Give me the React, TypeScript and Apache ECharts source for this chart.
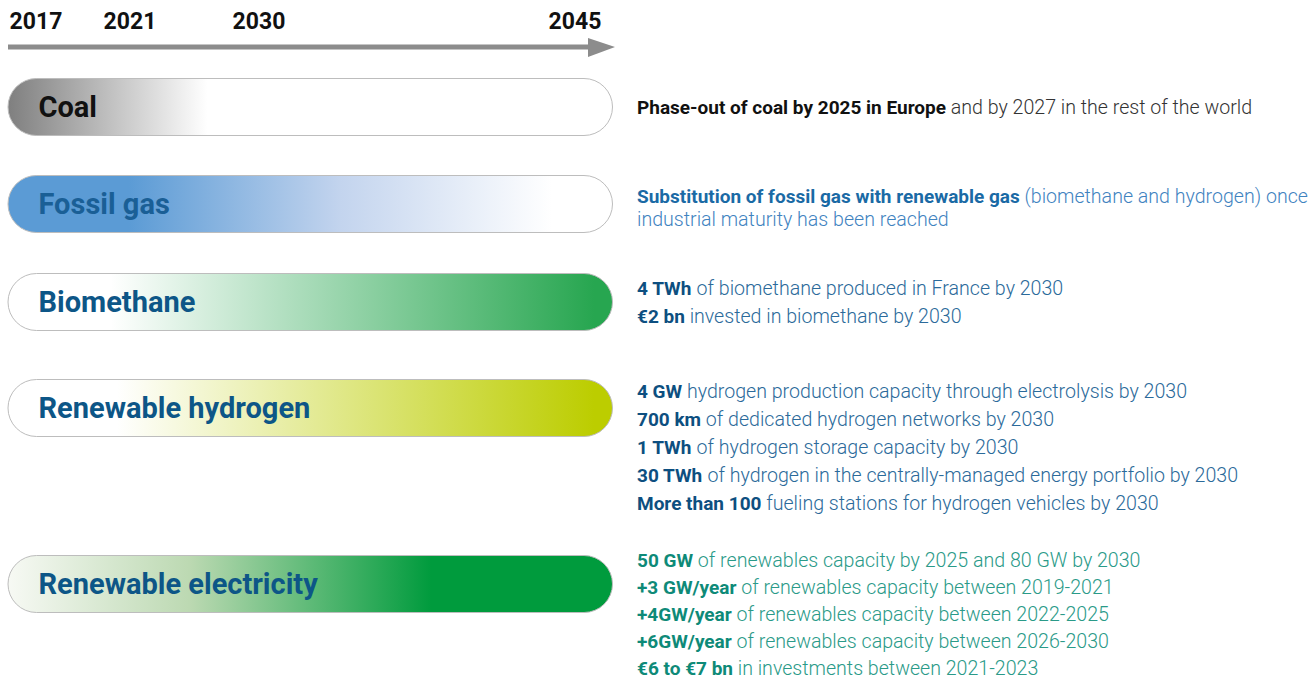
import React, { useEffect, useRef } from "react";
import * as echarts from "echarts";

const timelineYears = ["2017", "2021", "2030", "2045"];
const rangeStart = 2017;
const rangeEnd = 2045;

const energies = ["Coal", "Fossil gas", "Biomethane", "Renewable hydrogen", "Renewable electricity"];

// gradient stops per energy: [offset, color]
const gradients: [number, string][][] = [
  [[0, "#7f7f7f"], [0.33, "#ffffff"], [1, "#ffffff"]],
  [[0, "#5b9bd5"], [0.2, "#5b9bd5"], [0.55, "#c3d4ee"], [0.9, "#ffffff"], [1, "#ffffff"]],
  [[0, "#ffffff"], [0.17, "#ffffff"], [0.97, "#27a650"], [1, "#27a650"]],
  [[0, "#ffffff"], [0.18, "#ffffff"], [0.97, "#bccd00"], [1, "#bccd00"]],
  [[0, "#f7f9f4"], [0.3, "#bcd9b2"], [0.7, "#009b3d"], [1, "#009b3d"]],
];
const labelColors = ["#111111", "#1a5f96", "#0d5687", "#0d5687", "#0d5687"];

// description lines: [bold part, normal part]
const descriptions: [string, string][][] = [
  [["Phase-out of coal by 2025 in Europe", " and by 2027 in the rest of the world"]],
  [
    ["Substitution of fossil gas with renewable gas", " (biomethane and hydrogen) once"],
    ["", "industrial maturity has been reached"],
  ],
  [
    ["4 TWh", " of biomethane produced in France by 2030"],
    ["€2 bn", " invested in biomethane by 2030"],
  ],
  [
    ["4 GW", " hydrogen production capacity through electrolysis by 2030"],
    ["700 km", " of dedicated hydrogen networks by 2030"],
    ["1 TWh", " of hydrogen storage capacity by 2030"],
    ["30 TWh", " of hydrogen in the centrally-managed energy portfolio by 2030"],
    ["More than 100", " fueling stations for hydrogen vehicles by 2030"],
  ],
  [
    ["50 GW", " of renewables capacity by 2025 and 80 GW by 2030"],
    ["+3 GW/year", " of renewables capacity between 2019-2021"],
    ["+4GW/year", " of renewables capacity between 2022-2025"],
    ["+6GW/year", " of renewables capacity between 2026-2030"],
    ["€6 to €7 bn", " in investments between 2021-2023"],
  ],
];
const descBoldColors = ["#111111", "#1a6aa5", "#0d4f80", "#0d4f80", "#0e8a78"];
const descNormalColors = ["#333333", "#3f83bf", "#2b6a9a", "#2b6a9a", "#2a9a88"];

export default function App() {
  const ref = useRef<HTMLDivElement>(null);
  useEffect(() => {
    if (!ref.current) return;
    const chart = echarts.init(ref.current, null, { renderer: "svg" });

    const pillTops = [78, 175, 273, 379, 555];
    const pillH = 58;
    const pillLeft = 8;
    const pillWidth = 605;
    const descFirstY = [107, 196, 288, 391, 560];
    const descLineH = [28, 23, 28, 28, 27];
    const yearX = [36, 130, 259, 575];
    const font = "Roboto, 'Noto Sans', sans-serif";

    const grids: any[] = [];
    const xAxes: any[] = [];
    const yAxes: any[] = [];
    const series: any[] = [];
    energies.forEach((name, i) => {
      grids.push({ left: pillLeft, width: pillWidth, top: pillTops[i], height: pillH, containLabel: false });
      xAxes.push({ type: "value", gridIndex: i, min: rangeStart, max: rangeEnd, show: false });
      yAxes.push({ type: "category", gridIndex: i, data: [name], show: false });
      series.push({
        type: "bar",
        xAxisIndex: i,
        yAxisIndex: i,
        barWidth: pillH,
        data: [rangeEnd],
        silent: true,
        itemStyle: {
          borderRadius: pillH / 2,
          borderColor: "#bdbdbd",
          borderWidth: 1,
          color: new echarts.graphic.LinearGradient(
            0, 0, 1, 0,
            gradients[i].map(([offset, color]) => ({ offset, color }))
          ),
        },
        label: {
          show: true,
          position: "insideLeft",
          distance: 31,
          formatter: name,
          color: labelColors[i],
          fontFamily: font,
          fontWeight: "bold",
          fontSize: 29,
        },
      });
    });

    const graphics: any[] = [];
    // timeline arrow
    graphics.push({
      type: "line",
      shape: { x1: 8, y1: 47, x2: 596, y2: 47 },
      style: { stroke: "#8c8c8c", lineWidth: 5 },
    });
    graphics.push({
      type: "polygon",
      shape: { points: [[588, 38], [615, 47], [588, 57]] },
      style: { fill: "#8c8c8c" },
    });
    timelineYears.forEach((y, i) => {
      graphics.push({
        type: "text",
        x: yearX[i],
        y: 21,
        style: {
          text: y,
          fill: "#111111",
          font: `bold 23px ${font}`,
          textAlign: "center",
          textVerticalAlign: "middle",
        },
      });
    });

    descriptions.forEach((lines, i) => {
      lines.forEach(([b, n], k) => {
        graphics.push({
          type: "text",
          x: 637,
          y: descFirstY[i] + k * descLineH[i],
          style: {
            text: (b ? `{b|${b}}` : "") + `{n|${n}}`,
            textVerticalAlign: "middle",
            rich: {
              b: { fontFamily: font, fontWeight: "bold", fontSize: 19, lineHeight: 20, fill: descBoldColors[i] },
              n: { fontFamily: font, fontWeight: 300, fontSize: 19.6, lineHeight: 20, fill: descNormalColors[i] },
            },
          },
        });
      });
    });

    chart.setOption({
      animation: false,
      backgroundColor: "#ffffff",
      grid: grids,
      xAxis: xAxes,
      yAxis: yAxes,
      series,
      graphic: graphics,
    });
    return () => chart.dispose();
  }, []);
  return <div ref={ref} style={{ width: 1316, height: 681, position: "absolute", left: 0, top: 0 }} />;
}
